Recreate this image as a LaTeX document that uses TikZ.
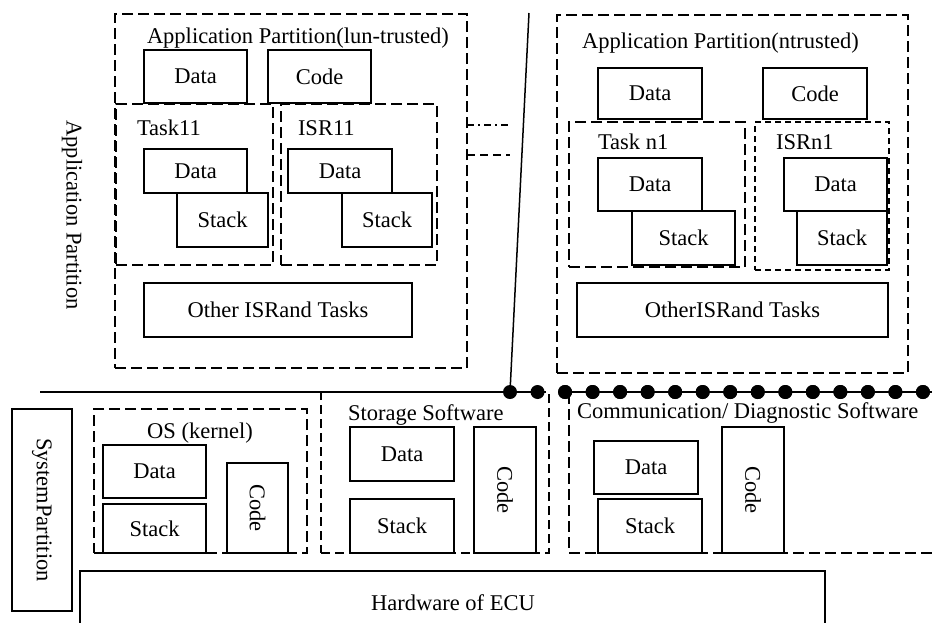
\documentclass[tikz,border=0pt]{standalone}
\usepackage{fontspec}
\setmainfont{Liberation Serif}
\begin{document}
\begin{tikzpicture}[x=1pt,y=-1pt,
  every node/.style={font=\fontsize{22.5}{25}\selectfont, inner sep=0pt, outer sep=0pt},
  sbox/.style={draw, line width=1.7pt, fill=white},
  dbox/.style={draw, line width=2.8pt, dash pattern=on 11pt off 5pt},
  fdbox/.style={draw, line width=2pt, dash pattern=on 6pt off 4pt},
  mdbox/.style={draw, line width=2.2pt, dash pattern=on 9pt off 5pt},
  dotn/.style={circle, fill=black, minimum size=14pt},
  vtext/.style={rotate=-90}
]
\useasboundingbox (0,0) rectangle (932,622);

% ---------- left application partition ----------
\node[dbox, minimum width=352pt, minimum height=354pt] (appL) at (291,191) {};
\node[anchor=west] (appLt) at (147,38) {Application Partition(lun-trusted)};
\node[sbox, minimum width=103pt, minimum height=53pt] (dL) at (195.5,76.5) {Data};
\node[sbox, minimum width=103pt, minimum height=53pt] (cL) at (319.5,76.5) {Code};
\node[dbox, minimum width=157pt, minimum height=161pt] (task11) at (194.5,184.5) {};
\node[dbox, minimum width=156pt, minimum height=161pt] (isr11) at (359,184.5) {};
\node[anchor=west] (task11t) at (137,128) {Task11};
\node[anchor=west] (isr11t) at (298,128) {ISR11};
\node[sbox, minimum width=103pt, minimum height=44pt] (tdL) at (195.5,171) {Data};
\node[sbox, minimum width=91pt, minimum height=54pt] (tsL) at (222.5,220) {Stack};
\node[sbox, minimum width=104pt, minimum height=44pt] (idL) at (340,171) {Data};
\node[sbox, minimum width=90pt, minimum height=54pt] (isL) at (387,220) {Stack};
\node[sbox, minimum width=268pt, minimum height=54pt] (oL) at (278,310) {Other ISRand Tasks};

% ---------- right application partition ----------
\node[dbox, minimum width=351pt, minimum height=358pt] (appR) at (732.5,194) {};
\node[anchor=west] (appRt) at (582,43) {Application Partition(ntrusted)};
\node[sbox, minimum width=104pt, minimum height=51pt] (dR) at (650,93.5) {Data};
\node[sbox, minimum width=104pt, minimum height=51pt] (cR) at (815,93.5) {Code};
\node[dbox, minimum width=176pt, minimum height=145pt] (taskn1) at (657,194.5) {};
\node[fdbox, minimum width=134pt, minimum height=148pt] (isrn1) at (822,196) {};
\node[anchor=west] (taskn1t) at (598,142) {Task n1};
\node[anchor=west] (isrn1t) at (776,142) {ISRn1};
\node[sbox, minimum width=104pt, minimum height=53pt] (tdR) at (650,184.5) {Data};
\node[sbox, minimum width=103pt, minimum height=54pt] (tsR) at (683.5,238) {Stack};
\node[sbox, minimum width=103pt, minimum height=53pt] (idR) at (835.5,184.5) {Data};
\node[sbox, minimum width=90pt, minimum height=54pt] (isR) at (842,238) {Stack};
\node[sbox, minimum width=311pt, minimum height=54pt] (oR) at (732.5,310) {OtherISRand Tasks};

% ---------- ellipsis connectors ----------
\coordinate (e1) at (510,125);
\coordinate (e2) at (510,155);
\draw[line width=2pt, dash pattern=on 7pt off 4pt on 2pt off 4pt] (appL.east |- e1) -- (e1);
\draw[line width=2pt, dash pattern=on 8pt off 5pt] (appL.east |- e2) -- (e2);

% ---------- side labels ----------
\node[vtext] (apl) at (72,215) {Application Partition};
\node[sbox, minimum width=60pt, minimum height=202pt] (sys) at (42,510) {};
\node[vtext] (syst) at (42,510) {SystemPartition};

% ---------- separator line with dots ----------
\coordinate (hl0) at (40,392);
\coordinate (hl1) at (545,392);
\coordinate (hl2) at (558,392);
\coordinate (hl3) at (932,392);
\coordinate (sltop) at (529,13);
\draw[line width=1.5pt] (hl0) -- (hl1);
\draw[line width=2pt] (hl2) -- (hl3);
\foreach \k in {0,...,15} {
  \node[dotn] (dot\k) at ({510+27.53*\k},392) {};
}
\draw[line width=1.5pt] (sltop) -- (dot0.center);

% ---------- system partition ----------
\node[dbox, minimum width=213pt, minimum height=144pt] (os) at (200.5,481) {};
\node (ost) at (200,433) {OS (kernel)};
\node[sbox, minimum width=103pt, minimum height=53pt] (osd) at (154.5,471.5) {Data};
\node[sbox, minimum width=103pt, minimum height=49pt] (oss) at (154.5,528.5) {Stack};
\node[sbox, minimum width=61pt, minimum height=90pt] (osc) at (257.5,508) {};
\node[vtext] at (osc) {Code};

\node[mdbox, minimum width=228pt, minimum height=161pt] (st) at (435,472.5) {};
\node[anchor=west] (stt) at (348,415) {Storage Software};
\node[sbox, minimum width=104pt, minimum height=54pt] (std) at (402,454) {Data};
\node[sbox, minimum width=104pt, minimum height=54pt] (sts) at (402,526) {Stack};
\node[sbox, minimum width=62pt, minimum height=126pt] (stc) at (505,490) {};
\node[vtext] at (stc) {Code};

\node[dbox, minimum width=391pt, minimum height=161pt] (cm) at (764.5,472.5) {};
\node[anchor=west] (cmt) at (577,413) {Communication/ Diagnostic Software};
\node[sbox, minimum width=104pt, minimum height=53pt] (cmd) at (646,467.5) {Data};
\node[sbox, minimum width=104pt, minimum height=54pt] (cms) at (650,526) {Stack};
\node[sbox, minimum width=62pt, minimum height=126pt] (cmc) at (753,490) {};
\node[vtext] at (cmc) {Code};

% redraw dots above the comm box border
\foreach \k in {2,...,15} {
  \node[dotn] at (dot\k) {};
}

% ---------- hardware ----------
\node[sbox, minimum width=745pt, minimum height=79pt] (hw) at (452.5,610.5) {};
\node (hwt) at (453,603) {Hardware of ECU};
\end{tikzpicture}
\end{document}
